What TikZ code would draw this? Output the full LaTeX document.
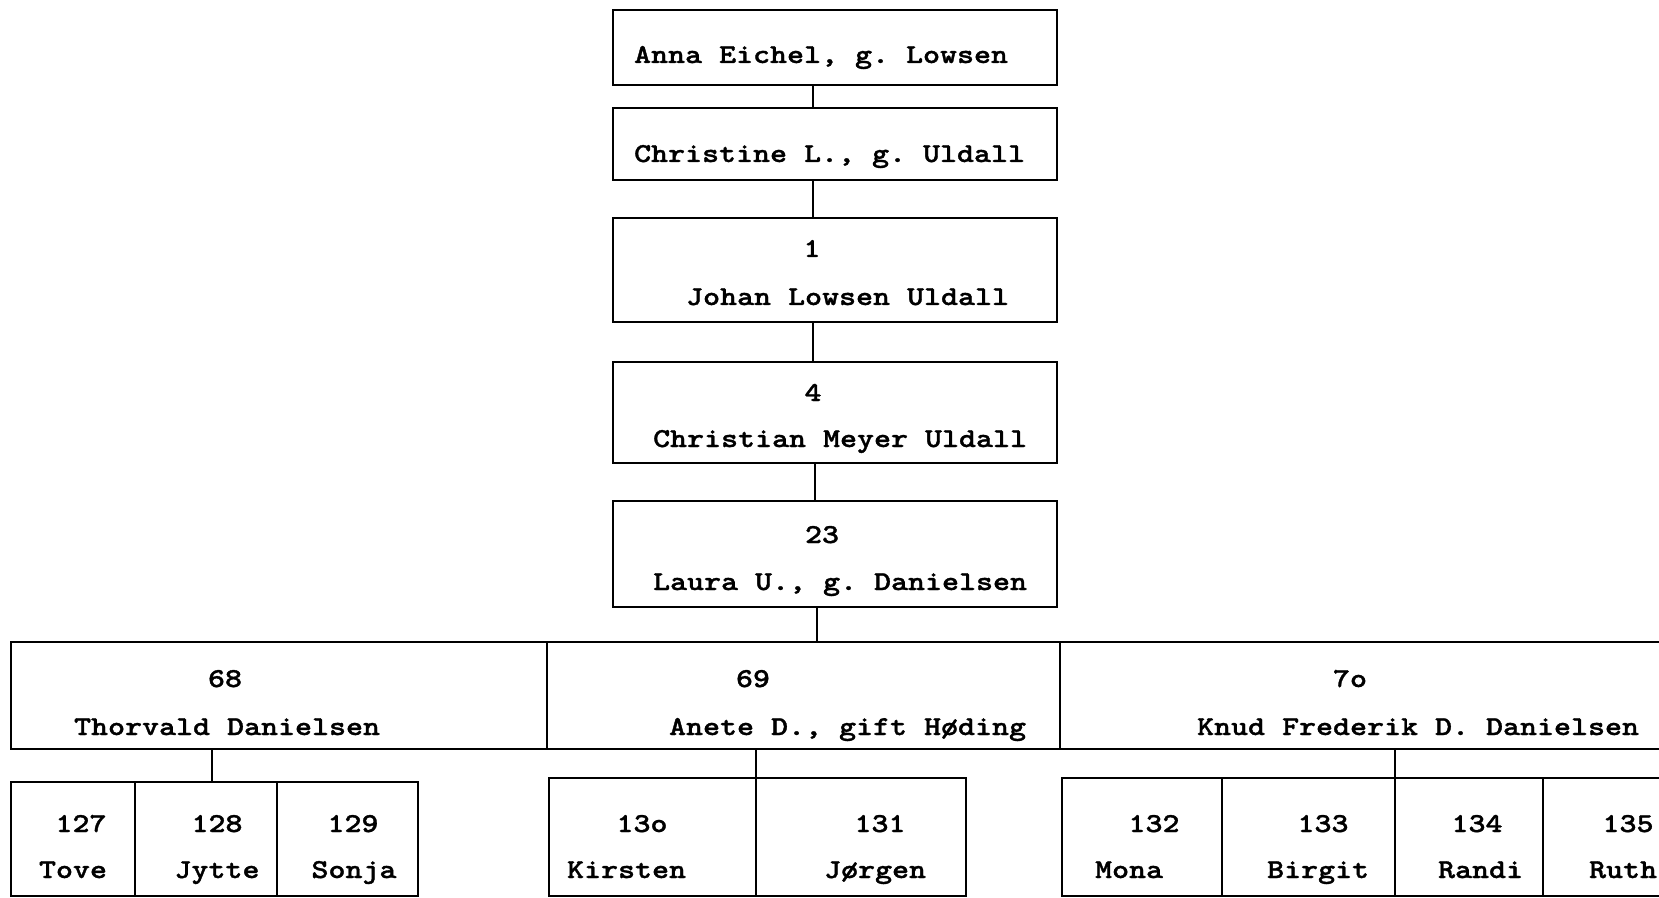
\documentclass[tikz,border=0pt]{standalone}
\usepackage{fontspec}
\setmonofont{lmmono10-regular}[Extension=.otf, BoldFont=lmmonolt10-bold, FakeStretch=1.185, BoldFeatures={FakeBold=1.2}]
\usetikzlibrary{positioning}

\begin{document}
\begin{tikzpicture}[x=0.5pt, y=-0.5pt, line width=1.1pt,
		box/.style={draw, rectangle, inner sep=0pt, outer sep=0pt, minimum width=222pt},
		cell/.style={draw, rectangle, inner sep=0pt, outer sep=0pt, anchor=north west},
		nametxt/.style={inner sep=0pt, anchor=base west, font=\ttfamily\bfseries\fontsize{13.66}{17}\selectfont},
		numtxt/.style={nametxt, anchor=base}]
		\useasboundingbox (0,0) rectangle (1659,898);

		% ancestors
		\node[box, minimum height=37.5pt, anchor=north west] (anna) at (613,10) {};
		\node[box, minimum height=36pt, below=11.5pt of anna] (christine) {};
		\node[box, minimum height=52pt, below=19pt of christine] (johan) {};
		\node[box, minimum height=50.5pt, below=20pt of johan] (christian) {};
		\node[box, minimum height=53pt, below=19pt of christian] (laura) {};

		\node[nametxt] (annatxt) at (633,63) {Anna Eichel, g. Lowsen};
		\node[nametxt] (christinetxt) at (633,162) {Christine L., g. Uldall};
		\node[numtxt] (johannum) at (812,257) {1};
		\node[nametxt] (johantxt) at (685,305) {Johan Lowsen Uldall};
		\node[numtxt] (christiannum) at (813,401) {4};
		\node[nametxt] (christiantxt) at (652,447) {Christian Meyer Uldall};
		\node[numtxt] (lauranum) at (822,543) {23};
		\node[nametxt] (lauratxt) at (652,590) {Laura U., g. Danielsen};

		% children
		\node[cell, minimum width=268pt, minimum height=53.5pt] (thorvald) at (11,642) {};
		\node[cell, minimum width=256.5pt, minimum height=53.5pt, right=0pt of thorvald] (anete) {};
		\node[cell, minimum width=310pt, minimum height=53.5pt, right=0pt of anete] (knud) {};

		\node[numtxt] (thorvaldnum) at (225,687) {68};
		\node[nametxt] (thorvaldtxt) at (73,735) {Thorvald Danielsen};
		\node[numtxt] (anetenum) at (753,687) {69};
		\node[nametxt] (anetetxt) at (668,735) {Anete D., gift Høding};
		\node[numtxt] (knudnum) at (1350,687) {7o};
		\node[nametxt] (knudtxt) at (1196,735) {Knud Frederik D. Danielsen};

		% grandchildren
		\node[cell, minimum width=62pt, minimum height=57pt] (tove) at (11,782) {};
		\node[cell, minimum width=71pt, minimum height=57pt, right=0pt of tove] (jytte) {};
		\node[cell, minimum width=70.5pt, minimum height=57pt, right=0pt of jytte] (sonja) {};

		\node[cell, minimum width=103.5pt, minimum height=59pt] (kirsten) at (549,778) {};
		\node[cell, minimum width=105pt, minimum height=59pt, right=0pt of kirsten] (jorgen) {};

		\node[cell, minimum width=80pt, minimum height=59pt] (mona) at (1062,778) {};
		\node[cell, minimum width=86.5pt, minimum height=59pt, right=0pt of mona] (birgit) {};
		\node[cell, minimum width=74pt, minimum height=59pt, right=0pt of birgit] (randi) {};
		\node[cell, minimum width=130pt, minimum height=59pt, right=0pt of randi] (ruth) {};

		\node[numtxt] (tovenum) at (81,832) {127};
		\node[numtxt] (tovetxt) at (73,878) {Tove};
		\node[numtxt] (jyttenum) at (217,832) {128};
		\node[numtxt] (jyttetxt) at (217,878) {Jytte};
		\node[numtxt] (sonjanum) at (353,832) {129};
		\node[numtxt] (sonjatxt) at (354,878) {Sonja};
		\node[numtxt] (kirstennum) at (642,832) {13o};
		\node[nametxt] (kirstentxt) at (566,878) {Kirsten};
		\node[numtxt] (jorgennum) at (880,832) {131};
		\node[nametxt] (jorgentxt) at (823,878) {Jørgen};
		\node[numtxt] (monanum) at (1154,832) {132};
		\node[nametxt] (monatxt) at (1094,878) {Mona};
		\node[numtxt] (birgitnum) at (1323,832) {133};
		\node[nametxt] (birgittxt) at (1266,878) {Birgit};
		\node[numtxt] (randinum) at (1477,832) {134};
		\node[nametxt] (randitxt) at (1437,878) {Randi};
		\node[numtxt] (ruthnum) at (1628,832) {135};
		\node[nametxt] (ruthtxt) at (1588,878) {Ruth};

		% lines of descent
		\draw ([xshift=-11pt]anna.south) -- ([xshift=-11pt]christine.north);
		\draw ([xshift=-11pt]christine.south) -- ([xshift=-11pt]johan.north);
		\draw ([xshift=-11pt]johan.south) -- ([xshift=-11pt]christian.north);
		\draw ([xshift=-10pt]christian.south) -- ([xshift=-10pt]laura.north);
		\coordinate (lauradown) at ([xshift=-9pt]laura.south);
		\draw (lauradown) -- (lauradown |- anete.north);
		\coordinate (thorvalddown) at ([xshift=3pt]jytte.north);
		\draw (thorvalddown) -- (thorvalddown |- thorvald.south);
		\draw (kirsten.north east) -- (kirsten.north east |- anete.south);
		\draw (birgit.north east) -- (birgit.north east |- knud.south);
	\end{tikzpicture}
\end{document}
